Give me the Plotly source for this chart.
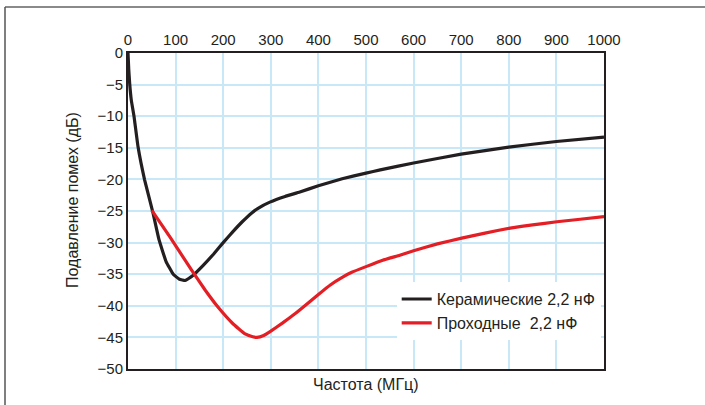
import plotly.graph_objects as go

freq_ceramic = [0, 1.5, 3.5, 7, 12.6, 21, 35, 52.5, 65, 80, 95, 108, 120, 135, 158, 180, 200, 220, 240, 260, 275, 298, 330, 361, 400, 450, 500, 530, 600, 700, 800, 900, 1000]
db_ceramic = [0, -2.5, -4.8, -7.5, -10, -14.8, -20.1, -25.3, -29.5, -33, -35, -35.8, -36, -35.3, -33.6, -31.8, -30, -28.3, -26.7, -25.3, -24.5, -23.6, -22.7, -22, -21, -19.9, -19, -18.5, -17.4, -16, -14.9, -14, -13.3]

freq_feed = [50, 88, 134, 162, 189, 220, 245, 262, 271, 285, 300, 325, 350, 376, 400, 425, 450, 470, 500, 535, 571, 600, 650, 701, 750, 803, 850, 901, 950, 1000]
db_feed = [-24.9, -29.1, -34.4, -37.5, -40.2, -42.8, -44.4, -44.9, -45, -44.7, -44, -42.7, -41.3, -39.7, -38.2, -36.7, -35.5, -34.7, -33.8, -32.8, -32, -31.3, -30.2, -29.3, -28.5, -27.7, -27.2, -26.7, -26.3, -25.9]

x_ticks = [0, 100, 200, 300, 400, 500, 600, 700, 800, 900, 1000]
y_ticks = [0, -5, -10, -15, -20, -25, -30, -35, -40, -45, -50]

names = ["Керамические 2,2 нФ", "Проходные  2,2 нФ"]
colors = ["#231f20", "#e31e24"]

fig = go.Figure()
fig.add_trace(go.Scatter(x=freq_ceramic, y=db_ceramic, mode="lines", name=names[0],
                         line=dict(color=colors[0], width=3.2, shape="spline", smoothing=0.3)))
fig.add_trace(go.Scatter(x=freq_feed, y=db_feed, mode="lines", name=names[1],
                         line=dict(color=colors[1], width=3.2, shape="spline", smoothing=0.3)))

fam = "Liberation Sans, Arial, sans-serif"
tickfont = dict(family=fam, size=15, color="#231f20")
font = dict(family=fam, size=16, color="#231f20")

fig.update_layout(
    width=705, height=405,
    margin=dict(l=128, r=101, t=53, b=36),
    paper_bgcolor="white", plot_bgcolor="white",
    font=font,
    showlegend=True,
    legend=dict(x=0.5645, y=0.275, xanchor="left", yanchor="top", bgcolor="white",
                font=font, itemwidth=30, tracegroupgap=0),
    xaxis=dict(range=[0, 1000], side="top", tickvals=x_ticks, ticktext=[str(v) for v in x_ticks],
               showgrid=True, gridcolor="#c8e8f7", gridwidth=2, zeroline=False,
               showline=True, linecolor="#231f20", linewidth=2, mirror=True,
               ticks="", ticklen=0, tickfont=tickfont, automargin=False),
    yaxis=dict(range=[-50, 0], tickvals=y_ticks,
               showgrid=True, gridcolor="#c8e8f7", gridwidth=2, zeroline=False,
               showline=True, linecolor="#231f20", linewidth=2, mirror=True,
               ticks="", ticklen=0, tickfont=tickfont, automargin=False),
)

# axis titles (positioned in paper coordinates)
fig.add_annotation(text="Частота (МГц)", xref="paper", yref="paper", x=0.5, y=-0.05,
                   xanchor="center", yanchor="middle", showarrow=False, font=font)
fig.add_annotation(text="Подавление помех (дБ)", xref="paper", yref="paper", x=-0.1155, y=0.535,
                   xanchor="center", yanchor="middle", textangle=-90, showarrow=False, font=font)

# outer frame lines (top and left)
fig.add_shape(type="line", xref="paper", yref="paper", x0=-0.2584, x1=1.22, y0=1.1456, y1=1.1456,
              line=dict(color="#8a8a8a", width=2))
fig.add_shape(type="line", xref="paper", yref="paper", x0=-0.2584, x1=-0.2584, y0=1.1456, y1=-0.13,
              line=dict(color="#555555", width=1.5))

fig.write_html("out.html", config={"displayModeBar": False},
               post_script="document.body.style.margin='0';")
